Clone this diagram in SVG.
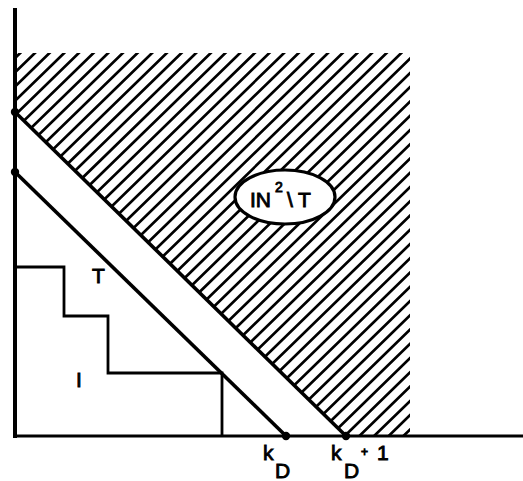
<svg xmlns="http://www.w3.org/2000/svg" width="523" height="481" viewBox="0 0 523 481">
<style>
.ln{fill:none;stroke:#000;stroke-linecap:butt;stroke-linejoin:miter}
.hatch{fill:none;stroke:#000;stroke-width:2.7}
.dot{fill:#000}
.lbl{font-family:"Liberation Sans",Arial,sans-serif;font-size:21px;fill:#000;stroke:#000;stroke-width:0.9}
</style>
<defs>
<clipPath id="hclip"><polygon points="15,53 410,53 410,436 346,436 15,112"/></clipPath>
</defs>
<rect width="523" height="481" fill="#fff"/>
<g id="hatched-region">
<path class="hatch" clip-path="url(#hclip)" d="M0 72.7l420 -408.7M0 87l420 -408.7M0 101.2l420 -408.7M0 115.5l420 -408.7M0 129.7l420 -408.7M0 144l420 -408.7M0 158.3l420 -408.7M0 172.5l420 -408.7M0 186.8l420 -408.7M0 201l420 -408.7M0 215.3l420 -408.7M0 229.6l420 -408.7M0 243.8l420 -408.7M0 258.1l420 -408.7M0 272.3l420 -408.7M0 286.6l420 -408.7M0 300.9l420 -408.7M0 315.1l420 -408.7M0 329.4l420 -408.7M0 343.6l420 -408.7M0 357.9l420 -408.7M0 372.2l420 -408.7M0 386.4l420 -408.7M0 400.7l420 -408.7M0 414.9l420 -408.7M0 429.2l420 -408.7M0 443.5l420 -408.7M0 457.7l420 -408.7M0 472l420 -408.7M0 486.2l420 -408.7M0 500.5l420 -408.7M0 514.8l420 -408.7M0 529l420 -408.7M0 543.3l420 -408.7M0 557.5l420 -408.7M0 571.8l420 -408.7M0 586.1l420 -408.7M0 600.3l420 -408.7M0 614.6l420 -408.7M0 628.8l420 -408.7M0 643.1l420 -408.7M0 657.4l420 -408.7M0 671.6l420 -408.7M0 685.9l420 -408.7M0 700.1l420 -408.7M0 714.4l420 -408.7M0 728.7l420 -408.7M0 742.9l420 -408.7M0 757.2l420 -408.7M0 771.4l420 -408.7M0 785.7l420 -408.7M0 800l420 -408.7M0 814.2l420 -408.7M0 828.5l420 -408.7"/>
</g>
<g id="staircase-I">
<path class="ln" stroke-width="2.8" d="M15 267H64V316H108V373H222V436"/>
</g>
<g id="connectors">
<line class="ln" stroke-width="4" x1="15" y1="8" x2="15" y2="438"/>
<line class="ln" stroke-width="3.2" x1="13" y1="436" x2="523" y2="436"/>
<line class="ln" stroke-width="3.6" x1="15" y1="172" x2="286" y2="436"/>
<line class="ln" stroke-width="3.6" x1="15" y1="112" x2="346" y2="436"/>
</g>
<g id="dots">
<circle class="dot" cx="15" cy="112" r="4.2"/>
<circle class="dot" cx="15" cy="172" r="4.2"/>
<circle class="dot" cx="286" cy="436" r="4.2"/>
<circle class="dot" cx="346" cy="436" r="4.2"/>
</g>
<g id="complement-node">
<ellipse cx="285" cy="197" rx="50" ry="27" fill="#fff" stroke="#000" stroke-width="3.2"/>
<text class="lbl"><tspan x="250" y="207">IN</tspan><tspan x="275" y="192" font-size="14">2</tspan><tspan x="287" y="207">\</tspan><tspan x="298" y="207">T</tspan></text>
</g>
<g id="label-T"><text class="lbl" x="92" y="283">T</text></g>
<g id="label-I"><text class="lbl" x="79" y="387" text-anchor="middle" font-size="23">I</text></g>
<g id="label-kD"><text class="lbl"><tspan x="263" y="460">k</tspan><tspan x="275" y="478">D</tspan></text></g>
<g id="label-kD1"><text class="lbl"><tspan x="331" y="460">k</tspan><tspan x="344" y="478">D</tspan><tspan x="361" y="456" font-size="12">+</tspan><tspan x="377" y="460">1</tspan></text></g>
</svg>
